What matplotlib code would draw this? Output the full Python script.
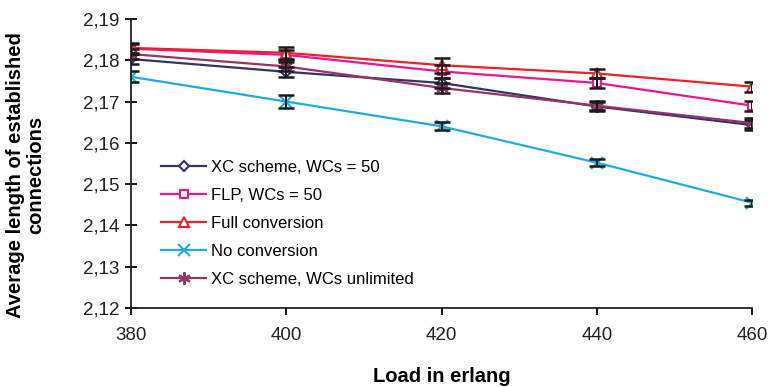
import matplotlib.pyplot as plt
from matplotlib.ticker import FuncFormatter

plt.rcParams['font.family'] = ['Liberation Sans', 'DejaVu Sans']

load = [380, 400, 420, 440, 460]

xc_50 = [2.1803, 2.1772, 2.1745, 2.1688, 2.1643]
flp_50 = [2.1828, 2.1813, 2.1773, 2.1745, 2.1690]
full_conv = [2.1830, 2.1818, 2.1788, 2.1768, 2.1736]
no_conv = [2.1760, 2.1700, 2.1640, 2.1552, 2.1455]
xc_unl = [2.1815, 2.1785, 2.1733, 2.1690, 2.1648]

err_xc_50 = [0.0012, 0.0012, 0.0013, 0.0012, 0.0013]
err_flp_50 = [0.0012, 0.0012, 0.0015, 0.0013, 0.0012]
err_full = [0.0013, 0.0015, 0.0018, 0.0010, 0.0012]
err_no = [0.0013, 0.0016, 0.0010, 0.0008, 0.0007]
err_unl = [0.0012, 0.0012, 0.0012, 0.0011, 0.0012]

labels = ['XC scheme, WCs = 50', 'FLP, WCs = 50', 'Full conversion',
          'No conversion', 'XC scheme, WCs unlimited']

series = [xc_50, flp_50, full_conv, no_conv, xc_unl]
errors = [err_xc_50, err_flp_50, err_full, err_no, err_unl]
colors = ['#333366', '#F0148C', '#F01E28', '#1EAAE6', '#993366']
markers = ['D', 's', '^', 'x', (6, 2, 0)]
msizes = [5, 6, 7, 8, 9]

fig = plt.figure(figsize=(7.7, 3.87), dpi=100)
ax = fig.add_axes([0.170, 0.204, 0.807, 0.747])

for ys, es, c, m, ms, lab in zip(series, errors, colors, markers, msizes, labels):
    filled = m in ('x', (6, 2, 0))
    ax.plot(load, ys, color=c, lw=1.6, marker=m, ms=ms,
            mfc=c if filled else 'white', mec=c, mew=1.5, label=lab, zorder=3)
    ax.errorbar(load, ys, yerr=es, fmt='none', ecolor='#1a1a1a',
                elinewidth=1.4, capsize=6, capthick=1.8, zorder=4)

ax.set_xlim(380, 460)
ax.set_ylim(2.12, 2.19)
ax.set_xticks(load)
ax.set_yticks([2.12, 2.13, 2.14, 2.15, 2.16, 2.17, 2.18, 2.19])
ax.yaxis.set_major_formatter(FuncFormatter(lambda v, p: f'{v:.2f}'.replace('.', ',')))

for s in ['top', 'right']:
    ax.spines[s].set_visible(False)
for s in ['left', 'bottom']:
    ax.spines[s].set_linewidth(1.3)
    ax.spines[s].set_color('#222222')

ax.tick_params(axis='y', direction='inout', length=8, width=1.3, labelsize=13.5,
               pad=4, labelcolor='#222222')
ax.tick_params(axis='x', direction='out', length=5, width=1.3, labelsize=13.5,
               pad=9, labelcolor='#222222')

ax.set_xlabel('Load in erlang', fontsize=14.5, fontweight='bold')
ax.xaxis.set_label_coords(0.5, -0.205)
ax.set_ylabel('Average length of established\nconnections', fontsize=14.5,
              fontweight='bold', linespacing=1.1)
ax.yaxis.set_label_coords(-0.138, 0.46)

ax.legend(loc='lower left', bbox_to_anchor=(0.025, 0.02), frameon=False,
          fontsize=12, handlelength=2.7, labelspacing=0.78, handletextpad=0.3)

fig.savefig('out.png', dpi=100)
